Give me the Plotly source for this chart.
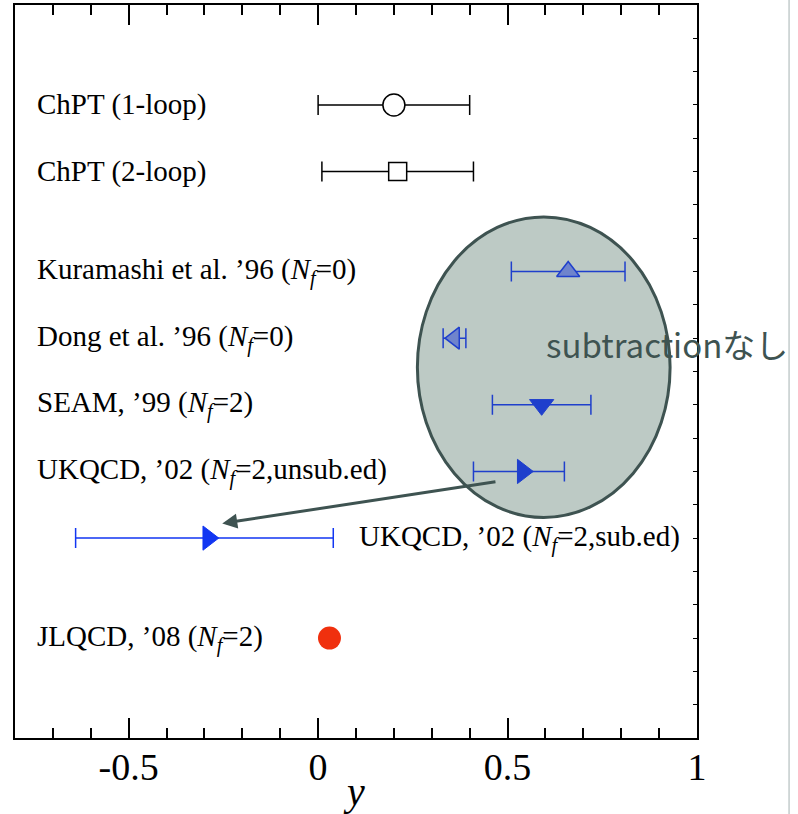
import plotly.graph_objects as go

# ---------------- data ----------------
labels = [
    "ChPT (1-loop)",
    "ChPT (2-loop)",
    "Kuramashi et al. ’96 (<i>N</i><sub><i>f</i></sub>=0)",
    "Dong et al. ’96 (<i>N</i><sub><i>f</i></sub>=0)",
    "SEAM, ’99 (<i>N</i><sub><i>f</i></sub>=2)",
    "UKQCD, ’02 (<i>N</i><sub><i>f</i></sub>=2,unsub.ed)",
    "UKQCD, ’02 (<i>N</i><sub><i>f</i></sub>=2,sub.ed)",
    "JLQCD, ’08 (<i>N</i><sub><i>f</i></sub>=2)",
]
y_values = [0.20, 0.21, 0.66, 0.36, 0.59, 0.54, -0.29, 0.03]
err_plus = [0.20, 0.20, 0.15, 0.03, 0.13, 0.11, 0.33, 0.0]
err_minus = [0.20, 0.20, 0.15, 0.03, 0.13, 0.13, 0.35, 0.0]
rows = [0, 1, 2.5, 3.5, 4.5, 5.5, 6.5, 8]

x_ticks = [-0.5, 0, 0.5, 1]
x_ticklabels = ["-0.5", "0", "0.5", "1"]
ellipse_note = "subtractionなし"

# ---------------- styles ----------------
BLK = "black"
BLUE = "#1f3fcc"
BLUE2 = "#1236f2"
HATCH = "#6f84cc"
RED = "#f0300e"
SLATE = "#3e5351"

styles = [
    dict(symbol="circle", size=22, color="white", line=dict(color=BLK, width=1.5), ecolor=BLK),
    dict(symbol="square", size=18, color="white", line=dict(color=BLK, width=1.5), ecolor=BLK),
    dict(symbol="triangle-up", size=20, color=HATCH, line=dict(color=BLUE, width=1.5), ecolor=BLUE),
    dict(symbol="triangle-left", size=19, color=HATCH, line=dict(color=BLUE, width=1.5), ecolor=BLUE),
    dict(symbol="triangle-down", size=21, color=BLUE, line=dict(color=BLUE, width=1), ecolor=BLUE),
    dict(symbol="triangle-right", size=21, color=BLUE, line=dict(color=BLUE, width=1), ecolor=BLUE),
    dict(symbol="triangle-right", size=21, color=BLUE2, line=dict(color=BLUE2, width=1), ecolor=BLUE2),
    dict(symbol="circle", size=23, color=RED, line=dict(color=RED, width=0), ecolor=RED),
]

fig = go.Figure()

# ellipse (drawn below traces)
fig.add_shape(type="circle", xref="x", yref="y",
              x0=0.262, x1=0.929, y0=1.68, y1=6.19,
              fillcolor="#bdcac5", line=dict(color=SLATE, width=3), layer="below")

for i in range(len(labels)):
    st = styles[i]
    has_err = err_plus[i] > 0
    fig.add_trace(go.Scatter(
        x=[y_values[i]], y=[rows[i]], mode="markers",
        marker=dict(symbol=st["symbol"], size=st["size"], color=st["color"], line=st["line"]),
        error_x=dict(type="data", symmetric=False, array=[err_plus[i]], arrayminus=[err_minus[i]],
                     color=st["ecolor"], thickness=1.5, width=10, visible=has_err),
        showlegend=False, cliponaxis=False, hoverinfo="skip",
    ))

# row labels
for i, lab in enumerate(labels):
    x_lab = 0.103 if i == 6 else -0.747
    fig.add_annotation(x=x_lab, y=rows[i], text=lab, showarrow=False,
                       xanchor="left", yanchor="middle",
                       font=dict(family="Liberation Serif", size=29, color="black"))

# arrow
fig.add_annotation(x=-0.253, y=6.28, ax=0.472, ay=5.65, xref="x", yref="y",
                   axref="x", ayref="y", text="", showarrow=True,
                   arrowhead=2, arrowsize=1, arrowwidth=3, arrowcolor=SLATE)

# note
fig.add_annotation(x=0.595, y=3.59, text=ellipse_note, showarrow=False,
                   xanchor="left", yanchor="middle",
                   font=dict(family="Noto Sans CJK JP", size=33, color=SLATE))

# grey vertical line at right (slide edge)
fig.add_shape(type="line", xref="paper", yref="paper", x0=1.135, x1=1.135,
              y0=-0.104, y1=1.007, line=dict(color="#c3cccc", width=1.5))

fig.update_layout(
    width=798, height=814,
    margin=dict(l=15, r=101, t=5, b=76),
    paper_bgcolor="white", plot_bgcolor="white",
    xaxis=dict(range=[-0.8, 1.0], tickvals=x_ticks, ticktext=x_ticklabels,
               ticks="inside", ticklen=20, tickwidth=1.5, tickcolor="black",
               minor=dict(dtick=0.1, tick0=0, ticks="inside", ticklen=10, tickwidth=1.5, tickcolor="black"),
               showline=True, linecolor="black", linewidth=2, mirror="ticks",
               showgrid=False, zeroline=False, automargin=False, ticklabelstandoff=-6,
               tickfont=dict(family="Liberation Serif", size=38, color="black"),
               title=dict(text="<i>y</i>", standoff=0,
                          font=dict(family="Liberation Serif", size=40, color="black"))),
    yaxis=dict(range=[9.5, -1.5], side="right", tick0=0, dtick=0.5, automargin=False,
               ticks="inside", ticklen=4, tickwidth=1, tickcolor="black",
               showticklabels=False, showline=True, linecolor="black", linewidth=2,
               mirror=True, showgrid=False, zeroline=False),
)

fig.write_html("out.html", config={"displayModeBar": False},
               post_script="document.body.style.margin='0';document.body.style.overflow='hidden';")
